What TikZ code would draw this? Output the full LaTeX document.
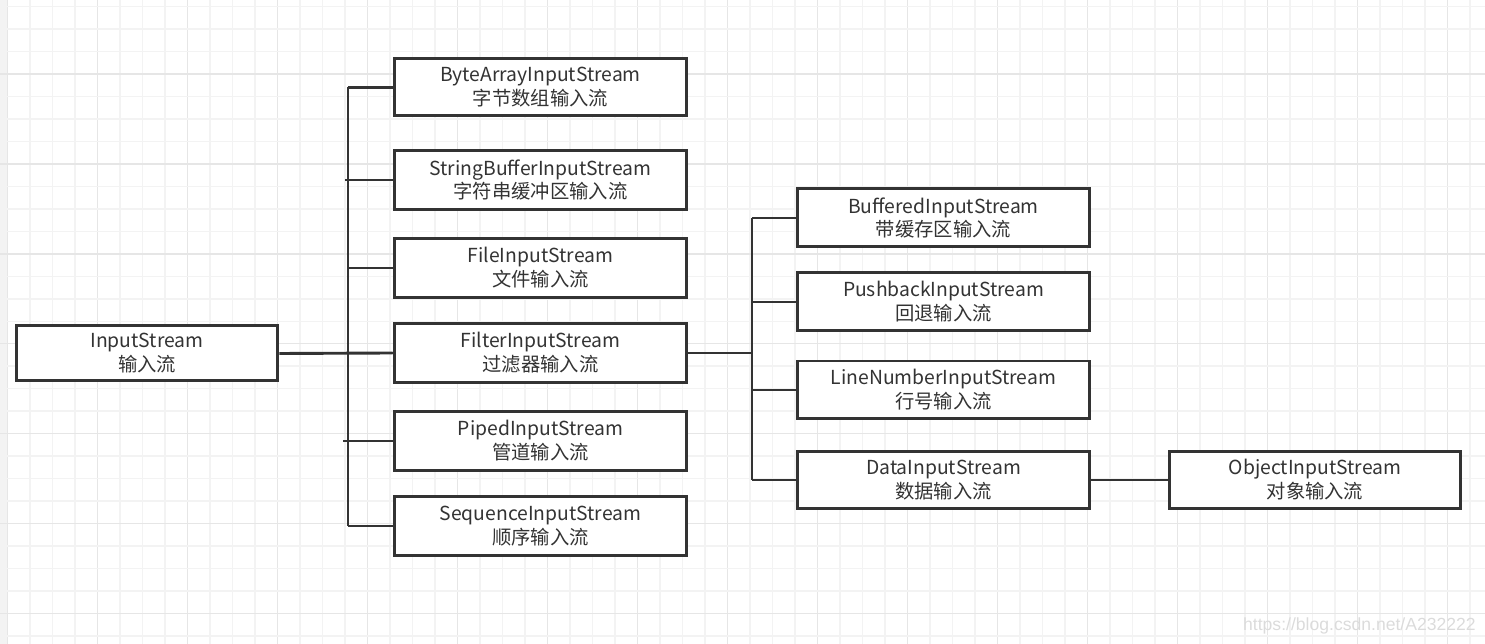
\documentclass[tikz,border=0pt]{standalone}
\usepackage{fontspec}
\newfontfamily\cjk{Noto Sans CJK SC}
\newfontfamily\markfont{Liberation Sans}
\usetikzlibrary{calc}
\definecolor{boxline}{HTML}{333333}
\definecolor{gridminor}{HTML}{F3F3F3}
\definecolor{gridmajor}{HTML}{E6E6E6}
\tikzset{
    streambox/.style={draw=boxline, line width=0.06cm, fill=white, align=center,
        font=\cjk\fontsize{11}{13.6}\selectfont, text=boxline,
        minimum width=5.86cm, minimum height=1.18cm, inner sep=0pt},
    rootbox/.style={streambox, minimum width=5.24cm, minimum height=1.1cm},
    link/.style={draw=boxline, line width=0.058cm}
}
\begin{document}
\begin{tikzpicture}[x=0.02cm, y=-0.02cm]

            \useasboundingbox (0,0) rectangle (1485,644);
            \fill[gridminor] (0,0) rectangle (8,644);
            \foreach \i in {0,...,65} {
                \pgfmathsetmacro{\gx}{7.7+22.5*\i}
                \ifnum\numexpr\i-4*(\i/4)\relax=0
                    \draw[gridmajor, line width=0.03cm] (\gx,0) -- (\gx,644);
                \else
                    \draw[gridminor, line width=0.03cm] (\gx,0) -- (\gx,644);
                \fi
            }
            \foreach \j in {0,...,28} {
                \pgfmathsetmacro{\gy}{6.7+22.47*\j}
                \pgfmathtruncatemacro{\jm}{mod(\j,4)}
                \ifnum\jm=3
                    \draw[gridmajor, line width=0.03cm] (0,\gy) -- (1485,\gy);
                \else
                    \draw[gridminor, line width=0.03cm] (0,\gy) -- (1485,\gy);
                \fi
            }

            \node (in) [rootbox] at (147,353.5) {InputStream\\输入流};

            \node (byte) [streambox, minimum height=1.14cm] at (540.5,87.5) {ByteArrayInputStream\\字节数组输入流};
            \node (sbuf) [streambox] at (540.5,180) {StringBufferInputStream\\字符串缓冲区输入流};
            \node (file) [streambox] at (540.5,268) {FileInputStream\\文件输入流};
            \node (filter) [streambox] at (540.5,353) {FilterInputStream\\过滤器输入流};
            \node (piped) [streambox] at (540.5,441) {PipedInputStream\\管道输入流};
            \node (seq) [streambox] at (540.5,526) {SequenceInputStream\\顺序输入流};

            \node (buf) [streambox, minimum height=1.16cm] at (943.5,218) {BufferedInputStream\\带缓存区输入流};
            \node (push) [streambox, minimum height=1.16cm] at (943.5,302) {PushbackInputStream\\回退输入流};
            \node (line) [streambox, minimum height=1.16cm] at (943.5,390) {LineNumberInputStream\\行号输入流};
            \node (data) [streambox, minimum height=1.16cm] at (943.5,480) {DataInputStream\\数据输入流};

            \node (obj) [streambox, minimum width=5.84cm, minimum height=1.16cm] at (1315,480) {ObjectInputStream\\对象输入流};

            \coordinate (trunkA) at (348,353);
            \coordinate (trunkB) at (752,353);

            \draw[link] (in.east) -- (filter.west);
            \draw[link] (trunkA |- byte.west) -- (trunkA |- seq.west);
            \foreach \n in {byte,file,filter,seq}
                \draw[link] (\n.west) -- (trunkA |- \n.west);
            \draw[link] (sbuf.west) -- ($(trunkA |- sbuf.west) + (-3,0)$);
            \draw[link] (piped.west) -- ($(trunkA |- piped.west) + (-5,0)$);

            \draw[link] (filter.east) -- (trunkB);
            \draw[link] (trunkB |- buf.west) -- (trunkB |- data.west);
            \foreach \n in {buf,push,line,data}
                \draw[link] (\n.west) -- (trunkB |- \n.west);

            \draw[link] (data.east) -- (obj.west);

            \node (mark) [anchor=east, font=\markfont\fontsize{10}{12}\selectfont, text=black!14, inner sep=0pt] at (1476,626) {https://blog.csdn.net/A232222};

        \end{tikzpicture}
\end{document}
